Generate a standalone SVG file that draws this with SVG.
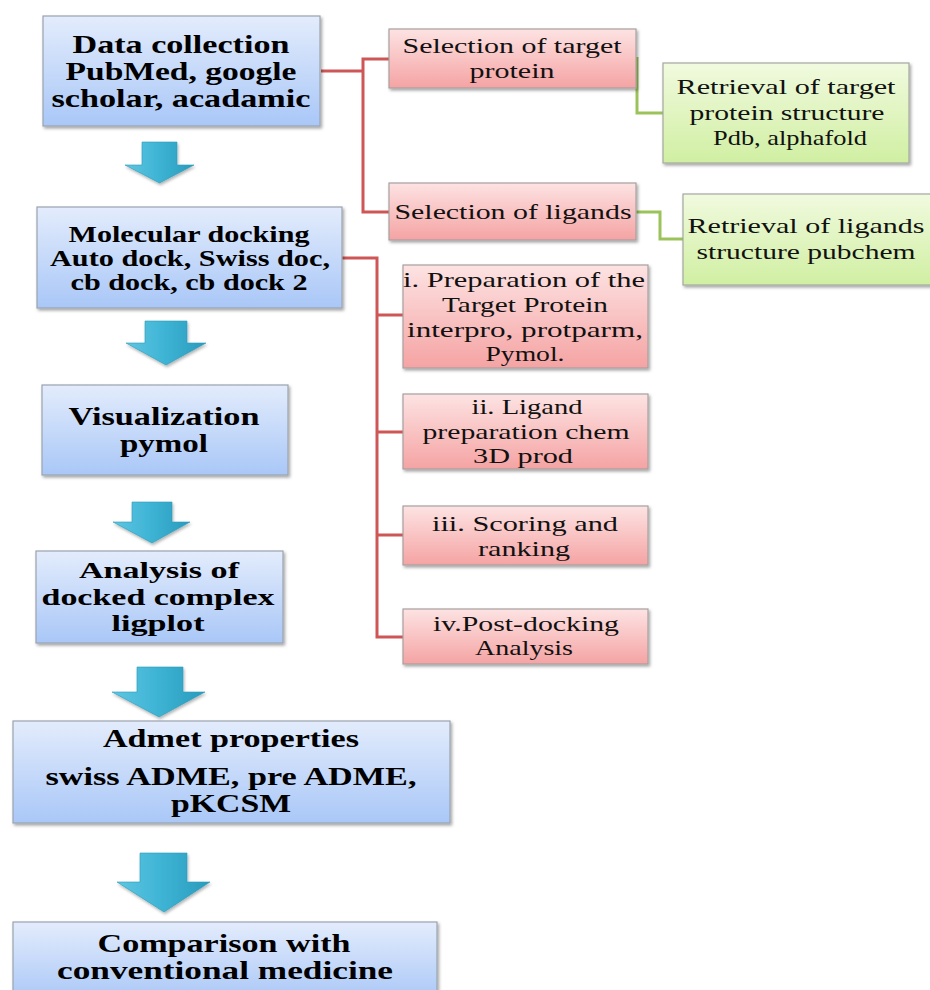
<svg xmlns="http://www.w3.org/2000/svg" width="930" height="990" viewBox="0 0 930 990">
<style>
.b{font-family:"Liberation Serif","Times New Roman",serif;font-weight:bold;font-size:26px;fill:#000;text-anchor:middle}
.bs{font-size:24px}
.r{font-family:"Liberation Serif","Times New Roman",serif;font-size:22px;fill:#111;text-anchor:middle}
.blue{fill:url(#gBlue);stroke:#9aa3b0;stroke-width:1.2;filter:url(#sh)}
.red{fill:url(#gRed);stroke:#a9a0a0;stroke-width:1.2;filter:url(#sh)}
.green{fill:url(#gGreen);stroke:#a3a8a0;stroke-width:1.2;filter:url(#sh)}
.arrow{fill:url(#gArrow);stroke:#2a9ab8;stroke-width:0.6;filter:url(#sh2)}
.cr{fill:none;stroke:#cf5656;stroke-width:3}
.cg{fill:none;stroke:#9bc35a;stroke-width:3}
</style>
<defs>
<linearGradient id="gBlue" x1="0" y1="0" x2="0" y2="1"><stop offset="0" stop-color="#e3ecfc"/><stop offset="1" stop-color="#a9c7f7"/></linearGradient>
<linearGradient id="gRed" x1="0" y1="0" x2="0" y2="1"><stop offset="0" stop-color="#fde3e3"/><stop offset="1" stop-color="#f5a3a3"/></linearGradient>
<linearGradient id="gGreen" x1="0" y1="0" x2="0" y2="1"><stop offset="0" stop-color="#f1fadf"/><stop offset="1" stop-color="#d0efa2"/></linearGradient>
<linearGradient id="gArrow" x1="0" y1="0" x2="1" y2="0"><stop offset="0" stop-color="#5fc6e2"/><stop offset="0.5" stop-color="#3db3d4"/><stop offset="1" stop-color="#2a9bbd"/></linearGradient>
<filter id="sh" x="-5%" y="-5%" width="112%" height="120%"><feDropShadow dx="1.5" dy="2" stdDeviation="1.5" flood-color="#000" flood-opacity="0.35"/></filter>
<filter id="sh2" x="-10%" y="-10%" width="125%" height="130%"><feDropShadow dx="1" dy="2" stdDeviation="1.5" flood-color="#000" flood-opacity="0.3"/></filter>
</defs>
<rect width="930" height="990" fill="#fff"/>

<g id="connectors">
<path class="cr" d="M321,71 H363 M389,59 H363 V212 H389"/>
<path class="cr" d="M342,258 H377 V637 H403 M377,315 H403 M377,432 H403 M377,535 H403"/>
<path class="cg" d="M637,57 V113 H663"/>
<path class="cg" d="M636,212 H660 V239 H683"/>
</g>

<g id="arrows">
<path class="arrow" d="M142,142 H177 V165 H194 L159.5,183 L125,165 H142 Z"/>
<path class="arrow" d="M145,321 H187 V343 H206 L166,365 L126,343 H145 Z"/>
<path class="arrow" d="M132,502 H172 V522 H190 L152,543 L113,522 H132 Z"/>
<path class="arrow" d="M137,667 H183 V692 H205 L159,717 L112,692 H137 Z"/>
<path class="arrow" d="M140,853 H187 V882 H210 L164,912 L117,882 H140 Z"/>
</g>

<g id="n-data">
<rect class="blue" x="43" y="16" width="277" height="110"/>
<text class="b" x="181" y="53" textLength="217" lengthAdjust="spacingAndGlyphs">Data collection</text>
<text class="b" x="181" y="80" textLength="231" lengthAdjust="spacingAndGlyphs">PubMed, google</text>
<text class="b" x="181" y="107" textLength="259" lengthAdjust="spacingAndGlyphs">scholar, acadamic</text>
</g>

<g id="n-docking">
<rect class="blue" x="37" y="207" width="305" height="101"/>
<text class="b bs" x="189" y="242" textLength="241" lengthAdjust="spacingAndGlyphs">Molecular docking</text>
<text class="b bs" x="190" y="266" textLength="280" lengthAdjust="spacingAndGlyphs">Auto dock, Swiss doc,</text>
<text class="b bs" x="189" y="290" textLength="237" lengthAdjust="spacingAndGlyphs">cb dock, cb dock 2</text>
</g>

<g id="n-visual">
<rect class="blue" x="42" y="385" width="246" height="90"/>
<text class="b" x="164" y="425" textLength="191" lengthAdjust="spacingAndGlyphs">Visualization</text>
<text class="b" x="164" y="452" textLength="88" lengthAdjust="spacingAndGlyphs">pymol</text>
</g>

<g id="n-analysis">
<rect class="blue" x="36" y="551" width="247" height="92"/>
<text class="b bs" x="159" y="578" textLength="160" lengthAdjust="spacingAndGlyphs">Analysis of</text>
<text class="b bs" x="158" y="605" textLength="233" lengthAdjust="spacingAndGlyphs">docked complex</text>
<text class="b bs" x="158" y="631" textLength="93" lengthAdjust="spacingAndGlyphs">ligplot</text>
</g>

<g id="n-admet">
<rect class="blue" x="13" y="721" width="437" height="102"/>
<text class="b" x="231" y="747" textLength="256" lengthAdjust="spacingAndGlyphs">Admet properties</text>
<text class="b" x="231" y="785" textLength="371" lengthAdjust="spacingAndGlyphs">swiss ADME, pre ADME,</text>
<text class="b" x="231" y="812" textLength="120" lengthAdjust="spacingAndGlyphs">pKCSM</text>
</g>

<g id="n-compare">
<rect class="blue" x="13" y="922" width="424" height="80"/>
<text class="b" x="224" y="952" textLength="253" lengthAdjust="spacingAndGlyphs">Comparison with</text>
<text class="b" x="225" y="979" textLength="336" lengthAdjust="spacingAndGlyphs">conventional  medicine</text>
</g>

<g id="n-sel-target">
<rect class="red" x="389" y="29" width="247" height="59"/>
<text class="r" x="512" y="53" textLength="219" lengthAdjust="spacingAndGlyphs">Selection of target</text>
<text class="r" x="512" y="78" textLength="85" lengthAdjust="spacingAndGlyphs">protein</text>
</g>

<g id="n-sel-ligands">
<rect class="red" x="389" y="183" width="247" height="57"/>
<text class="r" x="513" y="219" textLength="237" lengthAdjust="spacingAndGlyphs">Selection of ligands</text>
</g>

<g id="n-ret-target">
<rect class="green" x="663" y="63" width="246" height="100"/>
<text class="r" x="786" y="94" textLength="219" lengthAdjust="spacingAndGlyphs">Retrieval of target</text>
<text class="r" x="787" y="120" textLength="195" lengthAdjust="spacingAndGlyphs">protein structure</text>
<text class="r" x="790" y="145" textLength="154" lengthAdjust="spacingAndGlyphs">Pdb, alphafold</text>
</g>

<g id="n-ret-ligands">
<rect class="green" x="683" y="194" width="260" height="91"/>
<text class="r" x="806" y="233" textLength="237" lengthAdjust="spacingAndGlyphs">Retrieval of ligands</text>
<text class="r" x="806" y="259" textLength="219" lengthAdjust="spacingAndGlyphs">structure pubchem</text>
</g>

<g id="n-prep-target">
<rect class="red" x="403" y="265" width="245" height="103"/>
<text class="r" x="524" y="287" textLength="242" lengthAdjust="spacingAndGlyphs">i. Preparation of the</text>
<text class="r" x="525" y="312" textLength="166" lengthAdjust="spacingAndGlyphs">Target Protein</text>
<text class="r" x="525" y="337" textLength="236" lengthAdjust="spacingAndGlyphs">interpro, protparm,</text>
<text class="r" x="525" y="361" textLength="79" lengthAdjust="spacingAndGlyphs">Pymol.</text>
</g>

<g id="n-lig-prep">
<rect class="red" x="403" y="394" width="245" height="75"/>
<text class="r" x="527" y="414" textLength="111" lengthAdjust="spacingAndGlyphs">ii. Ligand</text>
<text class="r" x="526" y="439" textLength="207" lengthAdjust="spacingAndGlyphs">preparation chem</text>
<text class="r" x="523" y="463" textLength="100" lengthAdjust="spacingAndGlyphs">3D prod</text>
</g>

<g id="n-scoring">
<rect class="red" x="403" y="506" width="245" height="59"/>
<text class="r" x="525" y="531" textLength="186" lengthAdjust="spacingAndGlyphs">iii. Scoring and</text>
<text class="r" x="524" y="556" textLength="92" lengthAdjust="spacingAndGlyphs">ranking</text>
</g>

<g id="n-post">
<rect class="red" x="403" y="609" width="245" height="55"/>
<text class="r" x="526" y="631" textLength="186" lengthAdjust="spacingAndGlyphs">iv.Post-docking</text>
<text class="r" x="524" y="655" textLength="98" lengthAdjust="spacingAndGlyphs">Analysis</text>
</g>
</svg>
